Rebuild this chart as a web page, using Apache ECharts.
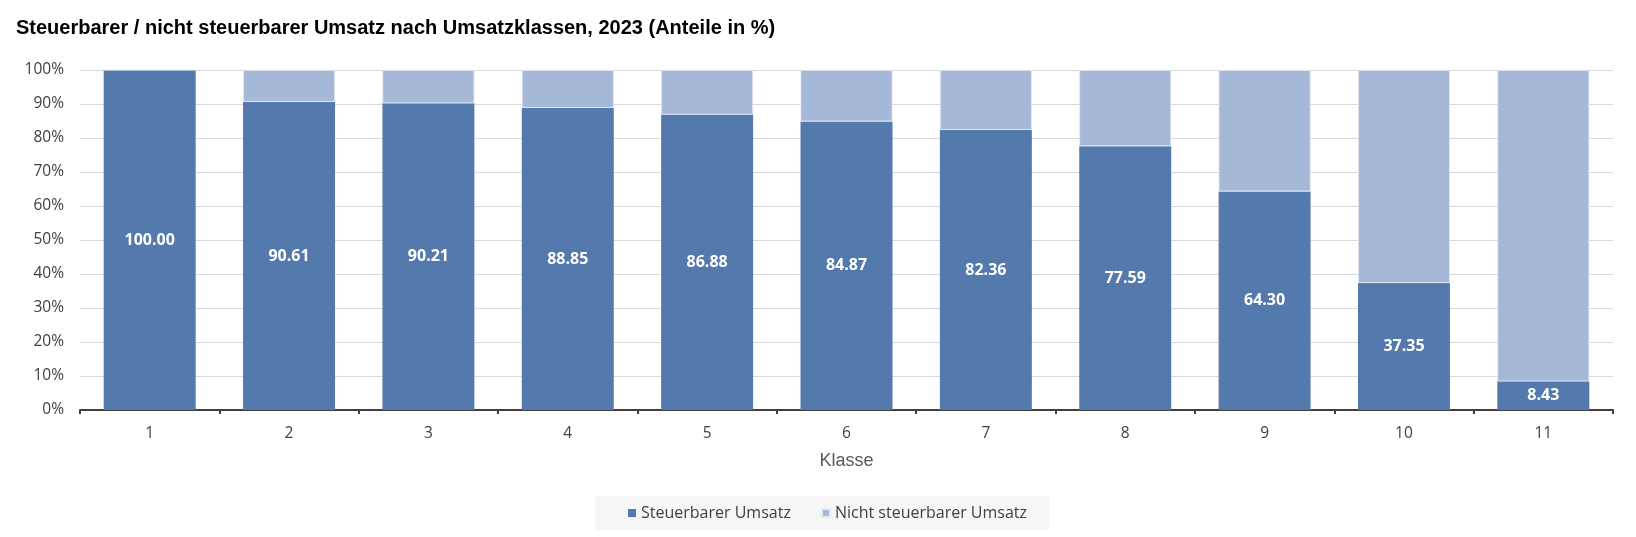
<!DOCTYPE html>
<html>
<head>
<meta charset="utf-8">
<script src="https://cdn.jsdelivr.net/npm/echarts@6/dist/echarts.min.js"></script>
<style>
html,body{margin:0;padding:0;background:#fff;}
#chart{width:1636px;height:537px;}
</style>
</head>
<body>
<div id="chart"></div>
<script>
const categories = ['1','2','3','4','5','6','7','8','9','10','11'];
const steuerbar = [100.00, 90.61, 90.21, 88.85, 86.88, 84.87, 82.36, 77.59, 64.30, 37.35, 8.43];
const nichtSteuerbar = [0.00, 9.39, 9.79, 11.15, 13.12, 15.13, 17.64, 22.41, 35.70, 62.65, 91.57];
const seriesNames = ['Steuerbarer Umsatz', 'Nicht steuerbarer Umsatz'];

const chart = echarts.init(document.getElementById('chart'));
chart.setOption({
  animation: false,
  backgroundColor: '#ffffff',
  title: {
    text: 'Steuerbarer / nicht steuerbarer Umsatz nach Umsatzklassen, 2023 (Anteile in %)',
    left: 11, top: 13,
    textStyle: { fontFamily: 'Liberation Sans', fontWeight: 'bold', fontSize: 20, color: '#000' }
  },
  legend: {
    data: seriesNames,
    left: 595, top: 496,
    backgroundColor: '#f6f6f6',
    padding: [9, 22, 9, 33],
    itemWidth: 8, itemHeight: 8, itemGap: 30,
    icon: 'rect',
    textStyle: { fontFamily: 'Open Sans', fontSize: 16, color: '#404040' }
  },
  grid: { left: 80, right: 23, top: 70, bottom: 127, containLabel: false },
  xAxis: {
    type: 'category',
    data: categories,
    name: 'Klasse',
    nameLocation: 'middle',
    nameGap: 42,
    nameTextStyle: { fontFamily: 'Liberation Sans', fontSize: 18, color: '#595959' },
    axisLine: { lineStyle: { color: '#404040', width: 2 } },
    axisTick: { show: true, length: 4, lineStyle: { color: '#404040', width: 2 } },
    axisLabel: { fontFamily: 'Open Sans', fontSize: 15.5, color: '#404040', margin: 16 }
  },
  yAxis: {
    type: 'value',
    min: 0, max: 100, interval: 10,
    axisLine: { show: false },
    axisTick: { show: false },
    axisLabel: { formatter: '{value}%', fontFamily: 'Open Sans', fontSize: 15.5, color: '#404040', margin: 16 },
    splitLine: { lineStyle: { color: '#d9d9d9', width: 1 } }
  },
  series: [
    {
      name: seriesNames[0], type: 'bar', stack: 'total',
      data: steuerbar,
      barCategoryGap: '34%',
      itemStyle: { color: '#5479ad' },
      label: {
        show: true, position: 'inside',
        formatter: p => p.value.toFixed(2),
        fontFamily: 'Open Sans', fontWeight: 'bold', fontSize: 16, color: '#ffffff'
      }
    },
    {
      name: seriesNames[1], type: 'bar', stack: 'total',
      data: nichtSteuerbar,
      barCategoryGap: '34%',
      itemStyle: { color: '#a6b8d8', borderColor: '#e4eaf4', borderWidth: 0.8 },
      label: { show: false }
    }
  ]
});
</script>
</body>
</html>
